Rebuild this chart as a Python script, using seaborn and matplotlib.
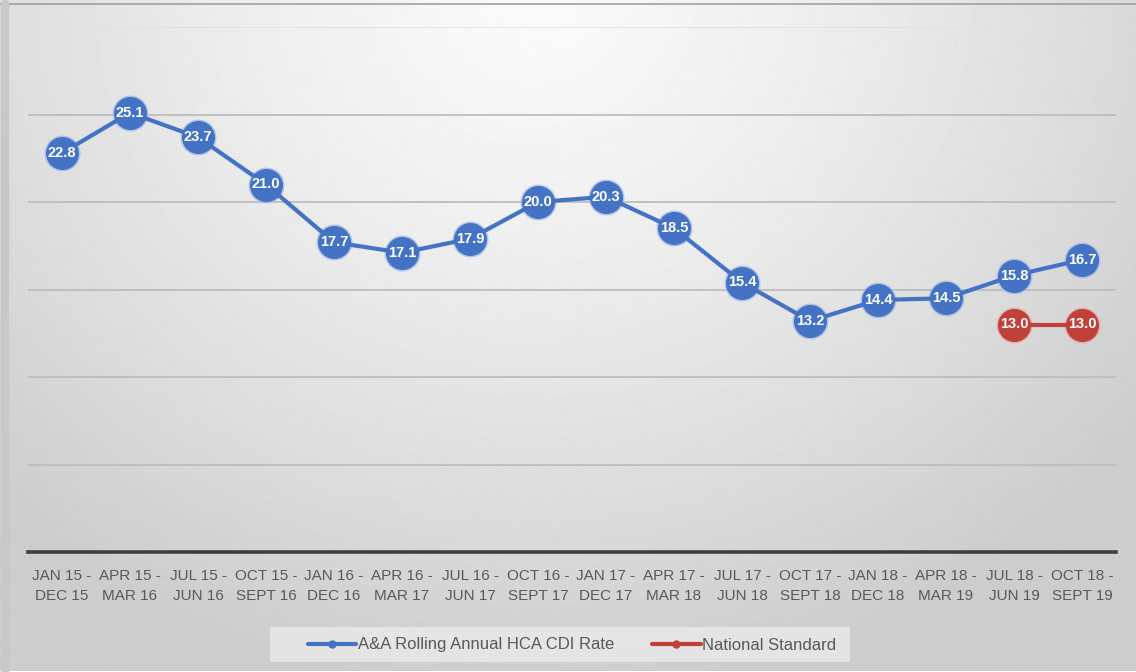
import numpy as np
import pandas as pd
import matplotlib
matplotlib.use("Agg")
import matplotlib.pyplot as plt
import seaborn as sns
from matplotlib.lines import Line2D
from matplotlib.patches import Rectangle

# Rolling annual periods (two-line category labels)
periods = [
    "JAN 15 -\nDEC 15", "APR 15 -\nMAR 16", "JUL 15 -\nJUN 16", "OCT 15 -\nSEPT 16",
    "JAN 16 -\nDEC 16", "APR 16 -\nMAR 17", "JUL 16 -\nJUN 17", "OCT 16 -\nSEPT 17",
    "JAN 17 -\nDEC 17", "APR 17 -\nMAR 18", "JUL 17 -\nJUN 18", "OCT 17 -\nSEPT 18",
    "JAN 18 -\nDEC 18", "APR 18 -\nMAR 19", "JUL 18 -\nJUN 19", "OCT 18 -\nSEPT 19",
]
cdi_rate = [22.8, 25.1, 23.7, 21.0, 17.7, 17.1, 17.9, 20.0,
            20.3, 18.5, 15.4, 13.2, 14.4, 14.5, 15.8, 16.7]
national_standard = [None] * 14 + [13.0, 13.0]

series_names = ["A&A Rolling Annual HCA CDI Rate", "National Standard"]
BLUE = "#4472C4"
RED = "#C0403A"
TEXT = "#595959"

sns.set_theme(style="white")
plt.rcParams["font.family"] = ["Liberation Sans", "DejaVu Sans"]

fig = plt.figure(figsize=(11.36, 6.72), dpi=100)

# soft grey background, lightest near the top centre
bg = fig.add_axes([0, 0, 1, 1], zorder=-10)
H, W = 672, 1136
yy, xx = np.mgrid[0:H, 0:W]
r = np.sqrt(((xx / W - 0.47) / 0.75) ** 2 + ((yy / H - 0.0) / 1.15) ** 2)
shade = np.clip(250 - 52 * r ** 1.3, 205, 250) / 255.0
bg.imshow(shade, cmap="gray", vmin=0, vmax=1, aspect="auto", interpolation="bilinear")
bg.set_axis_off()
bg.add_line(Line2D([0, W], [4, 4], color="#a0a0a0", lw=1.2))
bg.add_line(Line2D([5, 5], [4, H], color="#c8c8c8", lw=6))
# legend panel
bg.add_patch(Rectangle((270, 627), 580, 35, facecolor="#ececec", alpha=0.75,
                       edgecolor="none"))
bg.set_xlim(0, W)
bg.set_ylim(H, 0)

ax = fig.add_axes([28 / 1136, (672 - 552) / 672, (1116 - 28) / 1136, (552 - 27) / 672])
ax.set_facecolor("none")

df = pd.DataFrame({
    "x": np.arange(len(periods)),
    "cdi": cdi_rate,
    "nat": pd.array(national_standard, dtype="Float64"),
})

# pale halo behind the markers
ax.plot(df["x"], df["cdi"], "o", ms=25, color="#9fbbe6", alpha=0.6, zorder=2)
sns.lineplot(data=df, x="x", y="cdi", ax=ax, color=BLUE, lw=3.0,
             marker="o", markersize=23, markeredgecolor=BLUE, zorder=3)
nat_df = df.dropna(subset=["nat"]).astype({"nat": float})
ax.plot(nat_df["x"], nat_df["nat"], "o", ms=25, color="#e9a5a2", alpha=0.6, zorder=2)
sns.lineplot(data=nat_df, x="x", y="nat", ax=ax, color=RED, lw=3.0,
             marker="o", markersize=23, markeredgecolor=RED, zorder=3)

for xi, v in zip(df["x"], cdi_rate):
    ax.text(xi, v, f"{v:.1f}", ha="center", va="center", color="white",
            fontsize=10.5, fontweight="bold", zorder=5)
for xi, v in zip(nat_df["x"], nat_df["nat"]):
    ax.text(xi, v, f"{v:.1f}", ha="center", va="center", color="white",
            fontsize=10.5, fontweight="bold", zorder=5)

ax.set_xlim(-0.5, len(periods) - 0.5)
ax.set_ylim(0, 30)
ax.set_yticks([5, 10, 15, 20, 25, 30])
ax.yaxis.grid(True, color="#bdbdbd", lw=1.3)
ax.get_ygridlines()[-1].set_color("#e0e0e0")
ax.set_yticklabels([])
ax.tick_params(axis="y", length=0)
ax.set_xticks(range(len(periods)))
ax.set_xticklabels(periods, color=TEXT, fontsize=11, linespacing=1.55)
ax.tick_params(axis="x", length=0, pad=12)
ax.set_xlabel("")
ax.set_ylabel("")
for s in ["top", "right", "left"]:
    ax.spines[s].set_visible(False)
ax.spines["bottom"].set_color("#3f3f3f")
ax.spines["bottom"].set_linewidth(2.6)

handles = [
    Line2D([0], [0], color=BLUE, lw=3, marker="o", markersize=5),
    Line2D([0], [0], color=RED, lw=3, marker="o", markersize=5),
]
leg = fig.legend(handles, series_names, loc="center",
                 bbox_to_anchor=(572 / 1136, 1 - 645 / 672), ncol=2,
                 frameon=False, fontsize=12, handlelength=2.9,
                 columnspacing=2.3, handletextpad=0.1)
for t in leg.get_texts():
    t.set_color(TEXT)

fig.savefig("out.png", dpi=100)
